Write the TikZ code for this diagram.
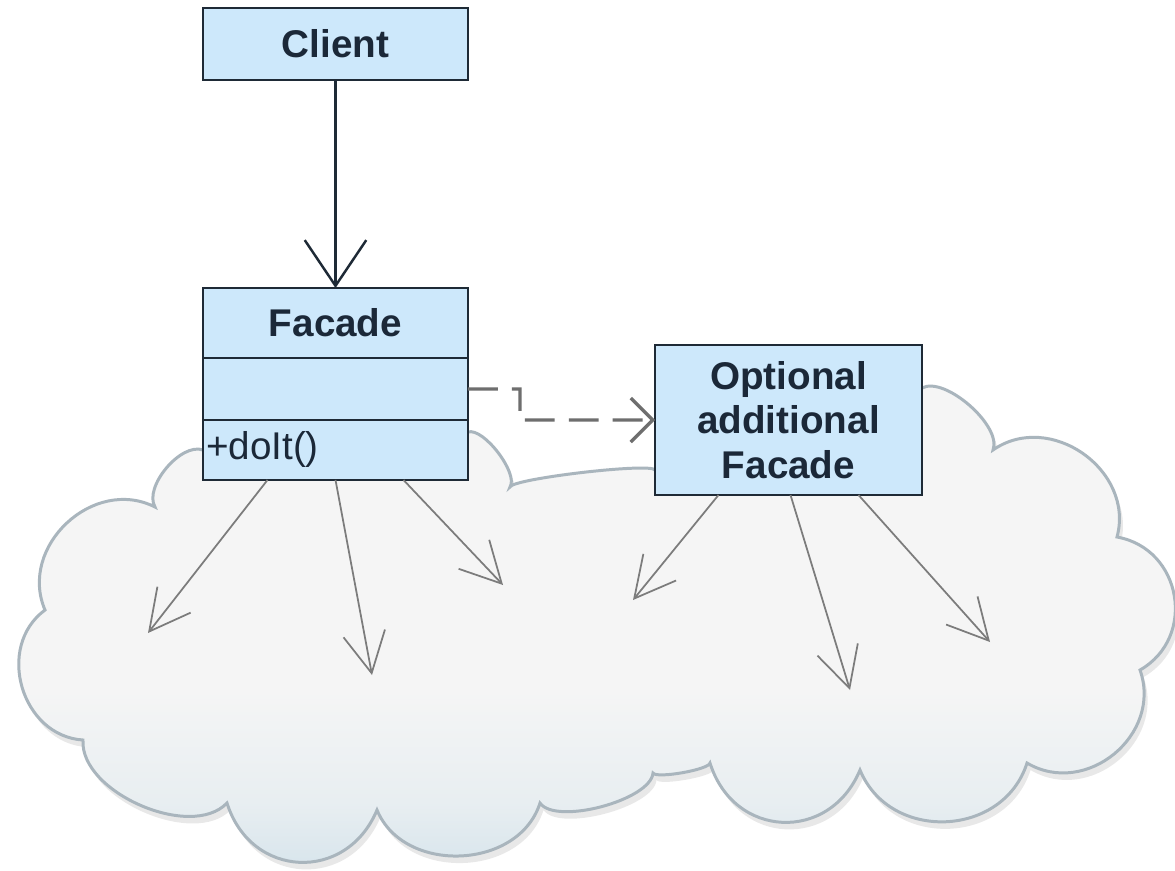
\documentclass[tikz,border=0pt]{standalone}
\usepackage{fontspec}
\setmainfont{Liberation Sans}
\usetikzlibrary{arrows.meta, positioning, calc, shadows}

\definecolor{boxfill}{HTML}{CDE8FB}
\definecolor{boxline}{HTML}{1E2A36}
\definecolor{textcol}{HTML}{1B2838}
\definecolor{cloudtop}{HTML}{F5F5F5}
\definecolor{cloudmid}{HTML}{E8EEF1}
\definecolor{cloudbot}{HTML}{D4E3EB}
\definecolor{cloudline}{HTML}{A9B5BD}
\definecolor{usegray}{HTML}{7C7C7C}
\definecolor{dashgray}{HTML}{6E6E6E}

\pgfdeclareverticalshading{cloudshade}{100bp}{color(0bp)=(cloudbot); color(25bp)=(cloudbot); color(33bp)=(cloudmid); color(44bp)=(cloudtop); color(100bp)=(cloudtop)}

\begin{document}
\begin{tikzpicture}[
    x=0.02cm, y=-0.02cm,
    cls/.style={rectangle, draw=boxline, line width=1.6pt, fill=boxfill, text=textcol, minimum width=5.3cm, inner sep=1pt, outer sep=0pt, align=center, font=\fontsize{22}{25.5}\selectfont\bfseries},
    dep/.style={-{Straight Barb[length=26pt, width=35pt]}, line width=1.4pt, draw=boxline},
    dasheddep/.style={-{Straight Barb[length=12.5pt, width=25pt]}, line width=1.9pt, draw=dashgray, dash pattern=on 17pt off 8pt},
    uses/.style={-{Straight Barb[length=23pt, width=24pt]}, line width=1pt, draw=usegray},
    cloudbg/.style={draw=cloudline, line width=1.7pt, shading=cloudshade, drop shadow={shadow xshift=2pt, shadow yshift=-4pt, opacity=0.18}},
    lobe/.style={bend right=70, looseness=#1}
]

\fill[white] (0,0) rectangle (1175,870);
\useasboundingbox (0,0) rectangle (1175,870);

% The subsystem cloud behind the facades
\draw[cloudbg] (203,450) to[lobe=0.8] (155,507)
    to[lobe=1.17] (45,610) to[lobe=1.17] (83,740)
    to[lobe=0.85] (227,803) to[lobe=1.35] (377,810)
    to[lobe=1.1] (540,803) to[lobe=0.6] (653,773)
    to[lobe=0.3] (710,763) to[lobe=1.35] (860,770)
    to[lobe=1.2] (1027,763) to[lobe=1.2] (1140,670)
    to[lobe=1.25] (1117,537) to[lobe=1.17] (993,450)
    to[lobe=0.7] (922,388) -- (655,470)
    to[lobe=0.15] (510,487) to[lobe=0.6] (468,432) -- cycle;

% Class nodes
\node[cls, minimum height=1.44cm] (client) at (335.5,44) {Client};
\node[cls, minimum height=1.4cm] (fhead) at (335.5,323) {Facade};
\node[cls, minimum height=1.24cm, below=0pt of fhead] (fattr) {};
\node[cls, minimum height=1.2cm, below=0pt of fattr, font=\fontsize{22}{25.5}\selectfont, align=left, text width=5.18cm, inner xsep=0.06cm] (fops) {+doIt()};
\node[cls, minimum width=5.34cm, minimum height=3cm] (opt) at (788.5,420) {Optional\\additional\\Facade};

% Dependencies
\draw[dep] (client) -- (fhead);

\coordinate (elbow) at (520,389);
\draw[dasheddep] (fattr.east) -- (elbow) |- (opt.west);

% Calls into the subsystem
\coordinate (t1) at (148,633);
\coordinate (t2) at (372,675);
\coordinate (t3) at (503,585);
\coordinate (t4) at (633,600);
\coordinate (t5) at (850,690);
\coordinate (t6) at (990,642);

\draw[uses] ($(fops.south)+(-68,0)$) -- (t1);
\draw[uses] (fops.south) -- (t2);
\draw[uses] ($(fops.south)+(68,0)$) -- (t3);
\draw[uses] ($(opt.south)+(-70,0)$) -- (t4);
\draw[uses] ($(opt.south)+(2,0)$) -- (t5);
\draw[uses] ($(opt.south)+(70,0)$) -- (t6);

\end{tikzpicture}
\end{document}
